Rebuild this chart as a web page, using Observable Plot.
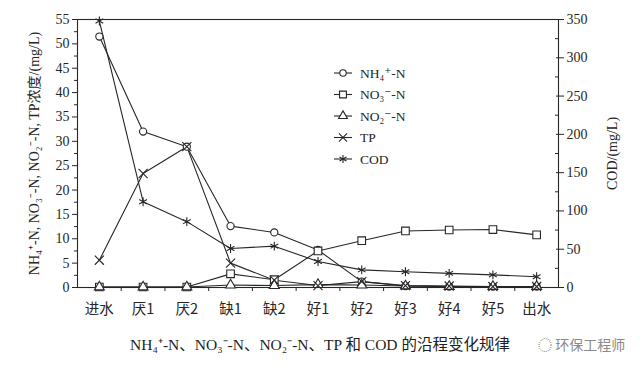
<!DOCTYPE html>
<html><head><meta charset="utf-8">
<script src="https://cdn.jsdelivr.net/npm/d3@7"></script>
<script src="https://cdn.jsdelivr.net/npm/@observablehq/plot@0.6"></script>
<style>
body{margin:0;background:#fff;}
#wrap{position:relative;width:640px;height:370px;overflow:hidden;background:#fff;font-family:"Liberation Serif","DejaVu Serif","Noto Sans CJK SC",serif;}
#legend{position:absolute;left:328px;top:62px;}
#caption{position:absolute;left:0;top:332px;width:640px;text-align:center;font-size:15.5px;color:#1e1e1e;font-family:"Liberation Serif","Noto Sans CJK SC",serif;}
#wm{position:absolute;left:538px;top:334px;font-size:14px;color:#8a8a8a;font-family:"Noto Sans CJK SC",sans-serif;}
</style>
</head><body><div id="wrap"><div id="chart"></div><div id="legend"></div><div id="caption">NH₄⁺-N、NO₃⁻-N、NO₂⁻-N、TP 和 COD 的沿程变化规律</div><div id="wm">◌ 环保工程师</div></div>
<script>
const stages = ["进水","厌1","厌2","缺1","缺2","好1","好2","好3","好4","好5","出水"];
const nh4 = [51.5, 32.0, 28.9, 12.6, 11.3, 7.7, 1.2, 0.3, 0.2, 0.2, 0.2];
const no3 = [0.1, 0.1, 0.1, 2.8, 1.6, 7.5, 9.6, 11.6, 11.8, 11.9, 10.8];
const no2 = [0.1, 0.1, 0.1, 0.5, 0.4, 0.6, 0.5, 0.3, 0.2, 0.2, 0.2];
const tp  = [5.6, 23.4, 28.9, 5.0, 1.5, 0.4, 1.2, 0.4, 0.3, 0.2, 0.2];
const cod = [348, 112, 86, 51, 54, 34, 23, 20.5, 18.5, 16.5, 14];
const leftTicks = [0,5,10,15,20,25,30,35,40,45,50,55];
const rightTicks = [0,50,100,150,200,250,300,350];

const yMax = 55, codMax = 350, k = yMax / codMax;
const ink = "#262626";
const series = [
  {name:"NH₄⁺-N", values:nh4, symbol:"circle", r:3.6, fill:"white"},
  {name:"NO₃⁻-N", values:no3, symbol:"square", r:4.3, fill:"white"},
  {name:"NO₂⁻-N", values:no2, symbol:"triangle", r:3.7, fill:"white"},
  {name:"TP", values:tp, symbol:"times", r:4.2, fill:"none"},
  {name:"COD", values:cod.map(v => v * k), symbol:"asterisk", r:4.2, fill:"none"}
];
const rows = series.flatMap(s => s.values.map((v, i) => ({series:s.name, i, v})));

const chart = Plot.plot({
  width: 640, height: 330,
  marginTop: 19, marginBottom: 43, marginLeft: 77, marginRight: 82,
  style: {fontFamily: '"Liberation Serif","Noto Sans CJK SC",serif', color: ink, background: "white"},
  x: {domain: [-0.5, stages.length - 0.5]},
  y: {domain: [0, yMax]},
  marks: [
    Plot.frame({stroke: ink, strokeWidth: 1.1}),
    Plot.axisY({ticks: leftTicks, tickSize: 5, tickPadding: 3, fontSize: 14, stroke: ink,
      label: "NH₄⁺-N, NO₃⁻-N, NO₂⁻-N, TP浓度/(mg/L)", labelAnchor: "center", labelArrow: "none", labelOffset: 48}),
    Plot.axisY({ticks: leftTicks.slice(0, -1).map(v => v + 2.5), tickSize: 3, tickFormat: () => "", label: null, stroke: ink}),
    Plot.axisY({anchor: "right", ticks: rightTicks.map(v => v * k), tickFormat: v => Math.round(v / k), tickSize: 5, tickPadding: 3, fontSize: 14, stroke: ink,
      label: "COD/(mg/L)", labelAnchor: "center", labelArrow: "none", labelOffset: 58}),
    Plot.axisY({anchor: "right", ticks: rightTicks.map(v => v * k), tickSize: -3, tickFormat: () => "", label: null, stroke: ink}),
    Plot.axisY({anchor: "right", ticks: rightTicks.slice(0, -1).map(v => (v + 25) * k), tickSize: -4, tickFormat: () => "", label: null, stroke: ink}),
    Plot.axisX({ticks: d3.range(stages.length), tickFormat: i => stages[i], tickSize: 0, tickPadding: 16, fontSize: 14.5, label: null,
      fontFamily: '"Noto Sans CJK SC","Liberation Serif",serif'}),
    Plot.axisX({ticks: d3.range(stages.length - 1).map(i => i + 0.5), tickSize: 4, tickFormat: () => "", label: null, stroke: ink}),
    Plot.line(rows, {x: "i", y: "v", z: "series", stroke: ink, strokeWidth: 1.1}),
    ...series.map(s => Plot.dot(rows.filter(d => d.series === s.name),
      {x: "i", y: "v", symbol: s.symbol, r: s.r, fill: s.fill, stroke: ink, strokeWidth: 1.1}))
  ]
});
document.getElementById("chart").appendChild(chart);

// legend
const symMap = {circle: d3.symbolCircle, square: d3.symbolSquare, triangle: d3.symbolTriangle, times: d3.symbolTimes, asterisk: d3.symbolAsterisk};
const lg = d3.select("#legend").append("svg").attr("width", 120).attr("height", 110);
series.forEach((s, j) => {
  const g = lg.append("g").attr("transform", `translate(0,${11 + j * 21.5})`);
  g.append("line").attr("x1", 6).attr("x2", 24).attr("stroke", ink).attr("stroke-width", 1.1);
  g.append("path").attr("transform", "translate(15,0)")
    .attr("d", d3.symbol(symMap[s.symbol], Math.PI * s.r * s.r * 0.8)())
    .attr("fill", s.fill).attr("stroke", ink).attr("stroke-width", 1.1);
  g.append("text").attr("x", 32).attr("dy", "0.35em").attr("font-size", 13.5)
    .attr("font-family", '"Liberation Serif","DejaVu Serif",serif').attr("fill", ink).text(s.name);
});
</script>
</body></html>
